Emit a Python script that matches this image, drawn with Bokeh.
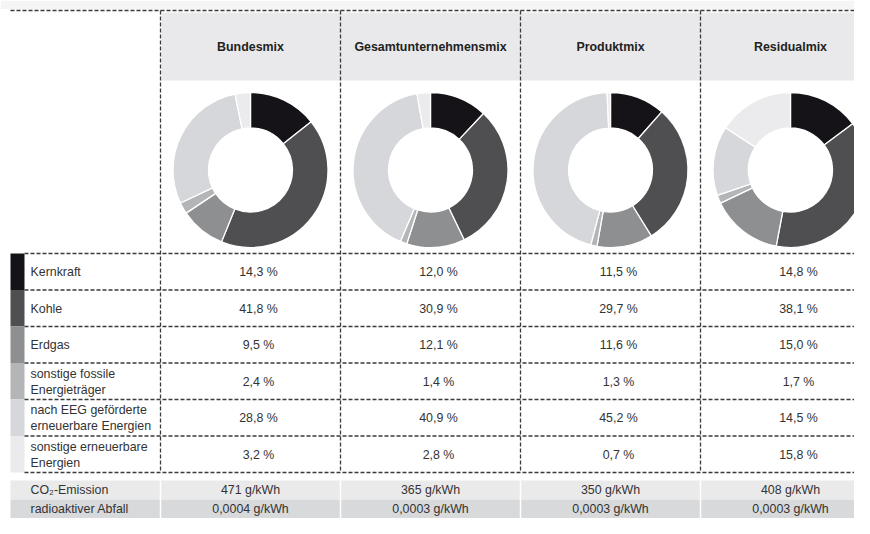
import math
from bokeh.plotting import figure
from bokeh.models import Range1d, ColumnDataSource
from bokeh.core.properties import value
from bokeh.embed import file_html
from bokeh.resources import INLINE

# ---------------- data ----------------
mixes = ["Bundesmix", "Gesamtunternehmensmix", "Produktmix", "Residualmix"]
energy_sources = [
    "Kernkraft",
    "Kohle",
    "Erdgas",
    "sonstige fossile\nEnergieträger",
    "nach EEG geförderte\nerneuerbare Energien",
    "sonstige erneuerbare\nEnergien",
]
kernkraft = [14.3, 12.0, 11.5, 14.8]
kohle = [41.8, 30.9, 29.7, 38.1]
erdgas = [9.5, 12.1, 11.6, 15.0]
sonstige_fossile = [2.4, 1.4, 1.3, 1.7]
eeg_erneuerbare = [28.8, 40.9, 45.2, 14.5]
sonstige_erneuerbare = [3.2, 2.8, 0.7, 15.8]
co2_emission = [471, 365, 350, 408]            # g/kWh
radioaktiver_abfall = ["0,0004", "0,0003", "0,0003", "0,0003"]  # g/kWh
source_colors = ["#151318", "#4f4f52", "#8e8f91", "#b4b5b7", "#d5d7da", "#ebebed"]

series = [kernkraft, kohle, erdgas, sonstige_fossile, eeg_erneuerbare, sonstige_erneuerbare]

# ---------------- layout ----------------
FONT = value("Liberation Sans")
W, H = 854, 518
p = figure(width=W, height=H, output_backend="svg", toolbar_location=None,
           x_range=Range1d(0, W), y_range=Range1d(0, H),
           x_axis_location=None, y_axis_location=None, min_border=0,
           outline_line_color=None, background_fill_color="white",
           border_fill_color="white")
p.grid.visible = False


def Y(py):
    return H - py


col_edges = [160, 340, 520, 700, 880]
col_centers = [(col_edges[i] + col_edges[i + 1]) / 2 for i in range(4)]
row_top = 253
row_h = 36.5
row_edges = [row_top + row_h * k for k in range(7)]
table_bottom = row_edges[-1]
DASH = dict(line_color="#3a3a3a", line_width=1.3, line_dash="4 2")
FS = value("12.4px")

# light strip above top line
p.quad(left=0, right=W, top=Y(0), bottom=Y(8.5), fill_color="#f5f5f5", line_color=None)

# header band
p.quad(left=161, right=W, top=Y(12), bottom=Y(80), fill_color="#e9e9eb", line_color=None)
p.text(x=col_centers, y=[Y(46)] * 4, text=mixes, text_font=FONT, text_font_size=FS,
       text_font_style="bold", text_color="#222222", text_align="center", text_baseline="middle")

# donuts
wx, wy, ws, we, wc = [], [], [], [], []
for i in range(4):
    vals = [s[i] for s in series]
    tot = sum(vals)
    c0 = 0.0
    for k, v in enumerate(vals):
        c1 = c0 + v / tot
        wx.append(col_centers[i])
        wy.append(Y(169.5))
        ws.append(math.pi / 2 - 2 * math.pi * c0)
        we.append(math.pi / 2 - 2 * math.pi * c1)
        wc.append(source_colors[k])
        c0 = c1
wsrc = ColumnDataSource(dict(x=wx, y=wy, s=ws, e=we, c=wc))
p.annular_wedge(x="x", y="y", inner_radius=42, outer_radius=77.5, start_angle="s", end_angle="e",
                direction="clock", fill_color="c", line_color="white", line_width=1.3, source=wsrc)

# colour strips + labels + values
for k in range(6):
    top, bot = row_edges[k], row_edges[k + 1]
    p.quad(left=10, right=24, top=Y(top), bottom=Y(bot), fill_color=source_colors[k], line_color=None)
lab_y = [Y((row_edges[k] + row_edges[k + 1]) / 2 + 0.5) for k in range(6)]
p.text(x=[30] * 6, y=lab_y, text=energy_sources, text_font=FONT, text_font_size=FS,
       text_color="#333333", text_align="left", text_baseline="middle", text_line_height=1.12)

vx, vy, vt = [], [], []
for k, s in enumerate(series):
    for i in range(4):
        vx.append(col_centers[i] + 8)
        vy.append(lab_y[k])
        vt.append(f"{s[i]:.1f}".replace(".", ",") + " %")
p.text(x=vx, y=vy, text=vt, text_font=FONT, text_font_size=FS,
       text_color="#333333", text_align="center", text_baseline="middle")

# dashed grid
hx0 = [10] + [24] * 7
hy = [10] + row_edges
p.segment(x0=hx0, y0=[Y(v) for v in hy], x1=[W] * len(hy), y1=[Y(v) for v in hy], **DASH)
p.segment(x0=col_edges[:4], y0=[Y(10)] * 4, x1=col_edges[:4], y1=[Y(table_bottom)] * 4, **DASH)

# bottom key figures
co2_top, co2_bot, ab_bot = 480, 499, 518
p.quad(left=10, right=W, top=Y(co2_top), bottom=Y(co2_bot), fill_color="#eaeaeb", line_color=None)
p.quad(left=10, right=W, top=Y(co2_bot), bottom=Y(ab_bot), fill_color="#d8d9db", line_color=None)
p.segment(x0=col_edges[:4], y0=[Y(co2_top)] * 4, x1=col_edges[:4], y1=[Y(ab_bot)] * 4,
          line_color="white", line_width=1.5)
ty_co2 = Y((co2_top + co2_bot) / 2)
ty_ab = Y((co2_bot + ab_bot) / 2)
p.text(x=[30, 30], y=[ty_co2, ty_ab], text=["CO₂-Emission", "radioaktiver Abfall"],
       text_font=FONT, text_font_size=FS, text_color="#333333",
       text_align="left", text_baseline="middle")
p.text(x=col_centers, y=[ty_co2] * 4, text=[f"{v} g/kWh" for v in co2_emission],
       text_font=FONT, text_font_size=FS, text_color="#333333",
       text_align="center", text_baseline="middle")
p.text(x=col_centers, y=[ty_ab] * 4, text=[f"{v} g/kWh" for v in radioaktiver_abfall],
       text_font=FONT, text_font_size=FS, text_color="#333333",
       text_align="center", text_baseline="middle")

open("out.html", "w").write(file_html(p, INLINE))
